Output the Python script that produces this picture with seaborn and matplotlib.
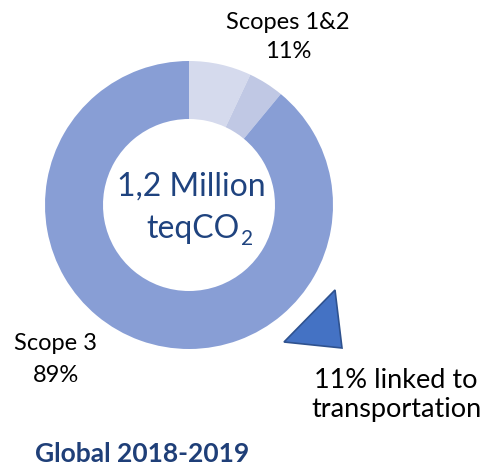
import matplotlib
matplotlib.use("Agg")
import matplotlib.pyplot as plt
from matplotlib.patches import Polygon
import seaborn as sns

# Data
segments = ["Scope 1", "Scope 2", "Scope 3"]
shares = [7, 4, 89]
seg_colors = ["#D5DAED", "#C0C8E4", "#889ED5"]
label_scopes12 = ["Scopes 1&2", "11%"]
label_scope3 = ["Scope 3", "89%"]
center_text = ["1,2 Million", "teqCO", "2"]
transport_text = ["11% linked to", "transportation"]
title_text = "Global 2018-2019"

sns.set_theme(style="white")
plt.rcParams['font.family'] = ['Lato', 'DejaVu Sans']

W, H = 487, 469
fig = plt.figure(figsize=(W / 100, H / 100), dpi=100)
ax = fig.add_axes([0, 0, 1, 1])

def Y(y):
    return H - y

ax.pie(shares, colors=seg_colors, startangle=90, counterclock=False,
       radius=144, center=(189, Y(205)),
       wedgeprops=dict(width=58, linewidth=0))
ax.set_xlim(0, W)
ax.set_ylim(0, H)
ax.set_aspect('equal')
ax.axis('off')

# triangle callout
tri = Polygon([(335, Y(290)), (284, Y(342)), (342, Y(348))], closed=True,
              facecolor="#4472C4", edgecolor="#2F528F", linewidth=1.2)
ax.add_patch(tri)

ax.text(288, Y(22), label_scopes12[0], ha='center', va='center', fontsize=17, color='black')
ax.text(288, Y(51), label_scopes12[1], ha='center', va='center', fontsize=17, color='black')
ax.text(56, Y(343), label_scope3[0], ha='center', va='center', fontsize=17, color='black')
ax.text(56, Y(375), label_scope3[1], ha='center', va='center', fontsize=17, color='black')

navy = '#1F437F'
ax.text(191, Y(187), center_text[0], ha='center', va='center', fontsize=23, color=navy)
ax.text(240, Y(229), center_text[1], ha='right', va='center', fontsize=23, color=navy)
ax.text(241, Y(239), center_text[2], ha='left', va='center', fontsize=15, color=navy)

ax.text(396, Y(380), transport_text[0], ha='center', va='center', fontsize=19.5, color='black')
ax.text(396, Y(410), transport_text[1], ha='center', va='center', fontsize=19.5, color='black')

ax.text(142, Y(454), title_text, ha='center', va='center', fontsize=19,
        fontweight='bold', color='#1F3F78')

fig.savefig("out.png", dpi=100)
